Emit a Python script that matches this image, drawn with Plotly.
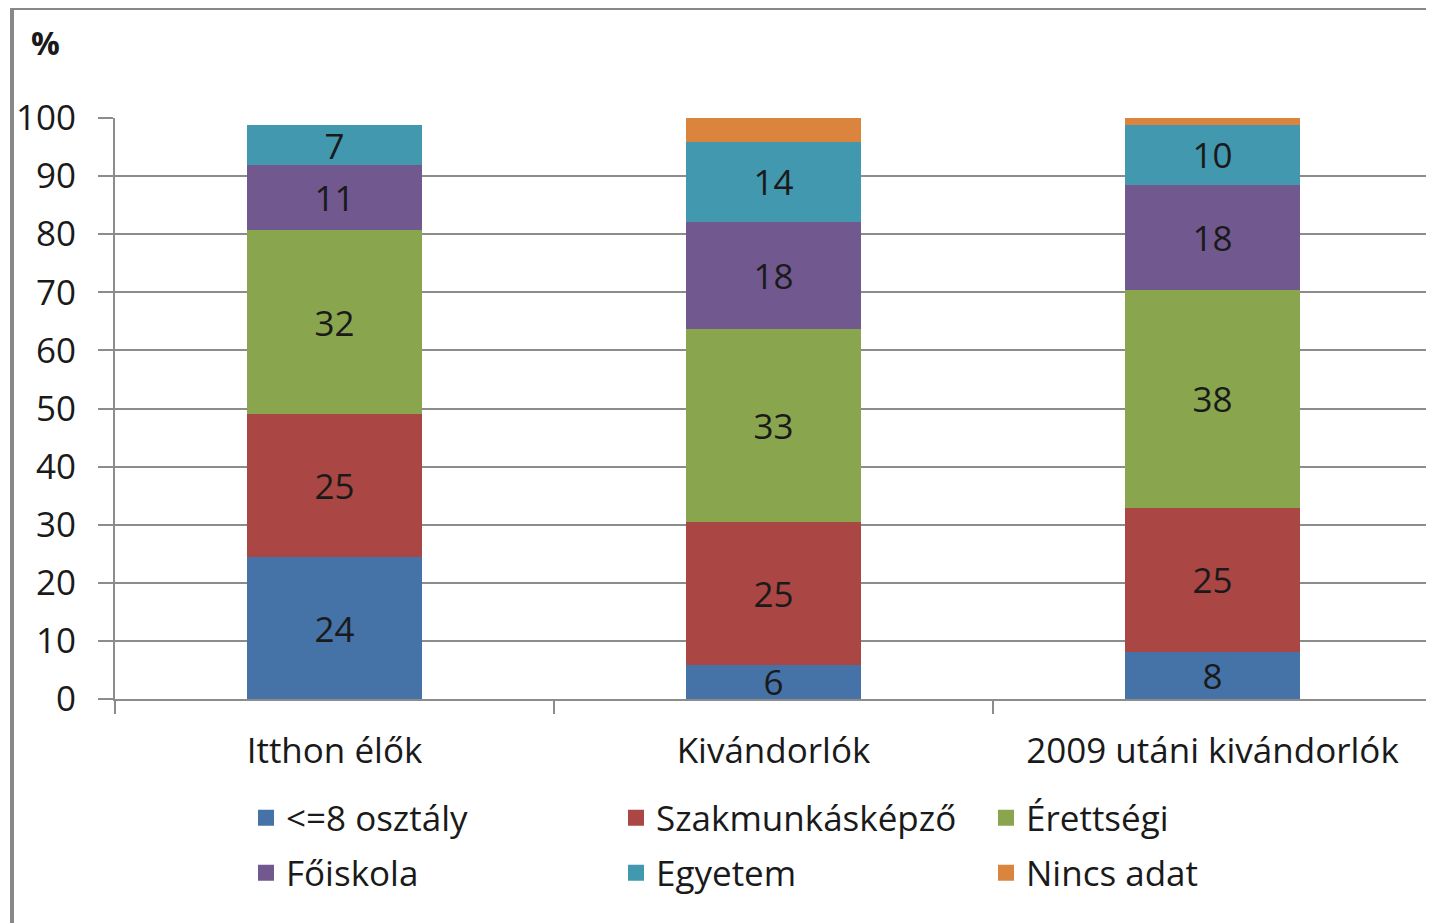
import plotly.graph_objects as go

# Kategóriák és adatok (százalék)
kategoriak = ["Itthon élők", "Kivándorlók", "2009 utáni kivándorlók"]
sorozatok = ["<=8 osztály", "Szakmunkásképző", "Érettségi", "Főiskola", "Egyetem", "Nincs adat"]
ertekek = {
    "<=8 osztály":     [24.4, 5.9, 8.1],
    "Szakmunkásképző": [24.6, 24.6, 24.8],
    "Érettségi":       [31.7, 33.2, 37.5],
    "Főiskola":        [11.2, 18.4, 18.1],
    "Egyetem":         [6.9, 13.8, 10.3],
    "Nincs adat":      [0.0, 4.1, 1.2],
}
cimkek = {
    "<=8 osztály":     ["24", "6", "8"],
    "Szakmunkásképző": ["25", "25", "25"],
    "Érettségi":       ["32", "33", "38"],
    "Főiskola":        ["11", "18", "18"],
    "Egyetem":         ["7", "14", "10"],
    "Nincs adat":      ["", "", ""],
}
szinek = ["#4572A7", "#AA4643", "#89A54E", "#71588F", "#4198AF", "#DB843D"]

FONT = "Open Sans"
FS = 35

# képernyő px (az oldal 8px-es body margóval tolja el az ábrát)
OFF = 8
L, R, T, B = 115, 1432, 118, 699
W, H = 1434 - OFF, 923 - OFF
def px_x(p):
    return (p - L) / (R - L)
def px_y(p):
    return (B - p) / (B - T)

fig = go.Figure()
for nev, szin in zip(sorozatok, szinek):
    fig.add_trace(go.Bar(
        x=kategoriak, y=ertekek[nev], name=nev, showlegend=False,
        marker=dict(color=szin, line=dict(width=0)),
        text=cimkek[nev], textposition="inside", insidetextanchor="middle",
        textangle=0, constraintext="none",
        textfont=dict(family=FONT, size=FS, color="#1a1a1a"),
    ))
# jelmagyarázat: két sor, nagyobb négyzetek
for i, (nev, szin) in enumerate(zip(sorozatok, szinek)):
    fig.add_trace(go.Scatter(
        x=[None], y=[None], mode="markers", name=nev,
        legend="legend" if i < 3 else "legend2",
        marker=dict(symbol="square", size=20, color=szin),
    ))

leg = dict(orientation="h", entrywidth=325, xanchor="left", yanchor="middle",
           font=dict(family=FONT, size=FS), traceorder="normal", itemclick=False,
           bgcolor="rgba(0,0,0,0)")

fig.update_layout(
    width=W, height=H,
    barmode="stack", bargap=0.6,
    plot_bgcolor="white", paper_bgcolor="white",
    margin=dict(l=L - OFF, r=W - (R - OFF), t=T - OFF, b=H - (B - OFF), autoexpand=False),
    font=dict(family=FONT, size=FS, color="#1a1a1a"),
    legend=dict(leg, x=px_x(246), y=px_y(818)),
    legend2=dict(leg, x=px_x(246), y=px_y(873)),
    xaxis=dict(showline=True, linecolor="#8c8c8c", linewidth=2,
               ticks="outside", tickson="boundaries", ticklen=13,
               tickcolor="#8c8c8c", tickwidth=2, ticklabelstandoff=20),
    yaxis=dict(range=[0, 100], dtick=10, showline=True, linecolor="#8c8c8c",
               linewidth=2, showgrid=True, gridcolor="#8c8c8c", gridwidth=2,
               ticks="outside", ticklen=15, tickcolor="#8c8c8c", tickwidth=2,
               ticklabelstandoff=15, zeroline=False),
    shapes=[
        dict(type="line", xref="paper", yref="paper", x0=px_x(12), x1=px_x(12),
             y0=px_y(7), y1=px_y(940), line=dict(color="#888888", width=4)),
        dict(type="line", xref="paper", yref="paper", x0=px_x(10), x1=px_x(1450),
             y0=px_y(8), y1=px_y(8), line=dict(color="#888888", width=4)),
    ],
    annotations=[
        dict(text="<b>%</b>", xref="paper", yref="paper", x=px_x(45), y=px_y(42),
             xanchor="center", yanchor="middle", showarrow=False,
             font=dict(family=FONT, size=32, color="#1a1a1a")),
    ],
)

fig.write_html("out.html")
